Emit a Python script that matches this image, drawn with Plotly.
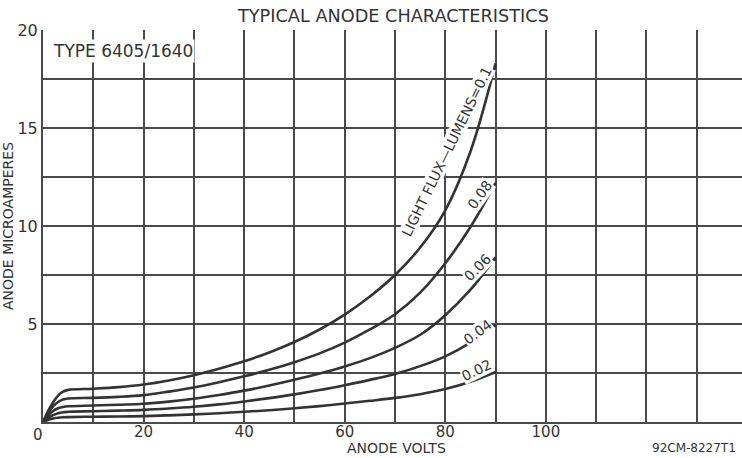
import plotly.graph_objects as go

# Data
anode_volts = [0, 1, 2, 3, 4, 5, 10, 15, 20, 25, 30, 35, 40, 45, 50, 55, 60, 65, 70, 75, 80, 85, 90]
flux_labels = ["0.1", "0.08", "0.06", "0.04", "0.02"]
current_01 = [0, 0.55, 1.0, 1.35, 1.55, 1.64, 1.7, 1.78, 1.91, 2.12, 2.39, 2.72, 3.1, 3.55, 4.08, 4.72, 5.48, 6.4, 7.5, 8.9, 10.8, 13.8, 18.3]
current_008 = [0, 0.45, 0.8, 1.02, 1.15, 1.2, 1.23, 1.28, 1.37, 1.55, 1.76, 2.03, 2.33, 2.66, 3.05, 3.5, 4.05, 4.72, 5.5, 6.6, 8.1, 9.95, 12.2]
current_006 = [0, 0.32, 0.56, 0.7, 0.77, 0.8, 0.84, 0.88, 0.93, 1.04, 1.19, 1.38, 1.6, 1.86, 2.15, 2.47, 2.83, 3.26, 3.78, 4.45, 5.45, 6.75, 8.4]
current_004 = [0, 0.2, 0.35, 0.45, 0.5, 0.52, 0.55, 0.58, 0.62, 0.69, 0.78, 0.9, 1.05, 1.22, 1.41, 1.63, 1.88, 2.15, 2.45, 2.85, 3.35, 4.05, 4.95]
current_002 = [0, 0.1, 0.18, 0.22, 0.24, 0.25, 0.27, 0.28, 0.3, 0.34, 0.39, 0.45, 0.52, 0.6, 0.7, 0.81, 0.94, 1.08, 1.23, 1.42, 1.68, 2.05, 2.55]
series = [current_01, current_008, current_006, current_004, current_002]

x_tickvals = list(range(0, 140, 10))
x_ticktext = ["", "", "20", "", "40", "", "60", "", "80", "", "100", "", "", ""]
y_tickvals = [0, 2.5, 5, 7.5, 10, 12.5, 15, 17.5, 20]
y_ticktext = ["", "", "5", "", "10", "", "15", "", "20"]

INK = "#333333"
GRID = "#4a4a4a"
FONT = "DejaVu Sans"

fig = go.Figure()
for name, ys in zip(flux_labels, series):
    fig.add_trace(go.Scatter(
        x=anode_volts, y=ys, mode="lines", name=name,
        line=dict(color=INK, width=2.6, shape="spline", smoothing=1.0),
        showlegend=False, hoverinfo="skip",
    ))

label_specs = [
    ("LIGHT FLUX—LUMENS=0.1", 80.2, 13.8, -64),
    ("0.08", 86.8, 11.6, -54),
    ("0.06", 86.5, 7.9, -45),
    ("0.04", 86.4, 4.6, -37),
    ("0.02", 86.3, 2.65, -26),
]
for text, lx, ly, ang in label_specs:
    fig.add_annotation(x=lx, y=ly, text=text, textangle=ang, showarrow=False,
                       font=dict(family=FONT, size=14, color=INK),
                       bgcolor="white", borderpad=0)

fig.add_annotation(x=16, y=18.95, text="TYPE 6405/1640", showarrow=False,
                   font=dict(family=FONT, size=17, color=INK), bgcolor="white",
                   borderpad=1)

fig.add_annotation(xref="paper", yref="paper", x=0.5, y=1.0, yanchor="bottom",
                   yshift=2,
                   text="TYPICAL ANODE CHARACTERISTICS", showarrow=False,
                   font=dict(family=FONT, size=17.7, color=INK))
fig.add_annotation(xref="paper", yref="paper", x=0.0, y=0.0, xshift=-5, yshift=-2,
                   text="0", showarrow=False, xanchor="center", yanchor="top",
                   font=dict(family=FONT, size=15, color=INK))
fig.add_annotation(xref="paper", yref="paper", x=0.5, y=0.0, xshift=4, yshift=-26,
                   xanchor="center", yanchor="middle",
                   text="ANODE VOLTS", showarrow=False,
                   font=dict(family=FONT, size=14, color=INK))
fig.add_annotation(xref="paper", yref="paper", x=1.0, y=0.0, xshift=-4, yshift=-17,
                   xanchor="right", yanchor="top",
                   text="92CM-8227T1", showarrow=False,
                   font=dict(family=FONT, size=12, color=INK))

fig.update_layout(
    width=742, height=458,
    margin=dict(l=43, r=0, t=30, b=36),
    paper_bgcolor="white", plot_bgcolor="white",
    font=dict(family=FONT, color=INK),
    xaxis=dict(
        range=[0, 139], tickmode="array", tickvals=x_tickvals, ticktext=x_ticktext,
        showgrid=True, gridcolor=GRID, gridwidth=1.5, zeroline=False,
        showline=True, linecolor=GRID, linewidth=2, ticks="",
        tickfont=dict(size=15, family=FONT, color=INK), ticklabelstandoff=-5,
        fixedrange=True,
    ),
    yaxis=dict(
        range=[0, 20], tickmode="array", tickvals=y_tickvals, ticktext=y_ticktext,
        showgrid=True, gridcolor=GRID, gridwidth=1.5, zeroline=False,
        showline=True, linecolor=GRID, linewidth=2, ticks="",
        tickfont=dict(size=16, family=FONT, color=INK),
        title=dict(text="ANODE MICROAMPERES", font=dict(size=14, family=FONT, color=INK), standoff=4),
        fixedrange=True,
    ),
)

fig.write_html("out.html", config={"displayModeBar": False},
               post_script="document.body.style.margin='0';document.body.style.overflow='hidden';")
